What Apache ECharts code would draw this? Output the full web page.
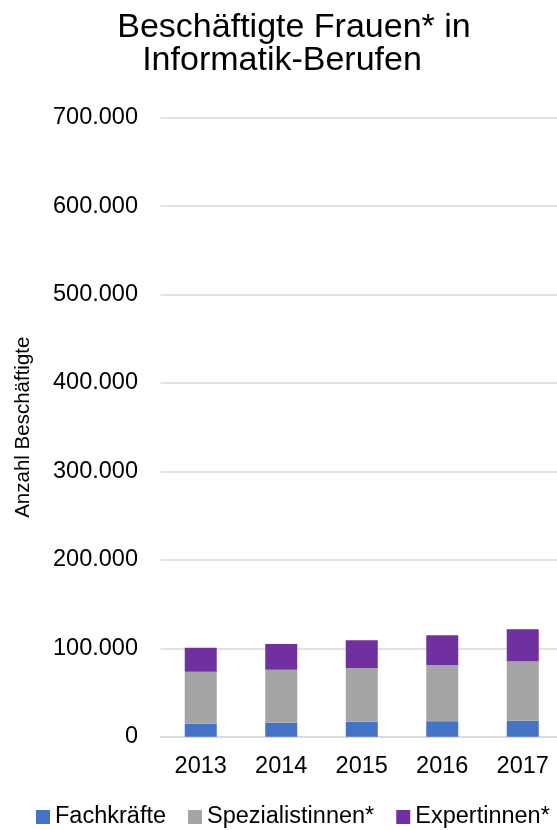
<!DOCTYPE html>
<html>
<head>
<meta charset="utf-8">
<script src="https://cdn.jsdelivr.net/npm/echarts@6/dist/echarts.min.js"></script>
<style>
html,body{margin:0;padding:0;background:#fff;}
#c{width:557px;height:830px;}
</style>
</head>
<body>
<div id="c"></div>
<script>
const titleLines = ['Beschäftigte Frauen* in', 'Informatik-Berufen'];
const years = ['2013', '2014', '2015', '2016', '2017'];
const seriesNames = ['Fachkräfte', 'Spezialistinnen*', 'Expertinnen*'];
const fachkraefte = [14700, 15800, 17000, 17400, 18100];
const spezialistinnen = [58800, 60000, 60700, 63700, 67200];
const expertinnen = [27100, 29000, 31300, 33600, 36200];
const colors = ['#4472C4', '#A5A5A5', '#7030A0'];
const font = '"Liberation Sans", Arial, sans-serif';

function fmt(v) {
  return String(v).replace(/\B(?=(\d{3})+(?!\d))/g, '.');
}

const chart = echarts.init(document.getElementById('c'));
const data = [fachkraefte, spezialistinnen, expertinnen];
chart.setOption({
  animation: false,
  textStyle: { fontFamily: font },
  graphic: [
    { type: 'text', x: 294, y: 27.5, style: { text: titleLines[0], fontSize: 34, fontFamily: font, fill: '#000', align: 'center', verticalAlign: 'middle' } },
    { type: 'text', x: 282, y: 61, style: { text: titleLines[1], fontSize: 34, fontFamily: font, fill: '#000', align: 'center', verticalAlign: 'middle' } }
  ],
  grid: { left: 160.5, right: -6, top: 117.7, bottom: 93.3, containLabel: false, outerBoundsMode: 'none' },
  legend: {
    left: 36, top: 805, padding: 0,
    itemWidth: 14, itemHeight: 14, itemGap: 22,
    icon: 'rect',
    textStyle: { fontSize: 23.5, color: '#000', fontFamily: font },
    data: seriesNames
  },
  xAxis: {
    type: 'category',
    data: years,
    axisLine: { lineStyle: { color: '#d9d9d9', width: 1.5 } },
    axisTick: { show: false },
    axisLabel: { fontSize: 23.5, color: '#000', margin: 18, fontFamily: font }
  },
  yAxis: {
    type: 'value',
    min: 0, max: 700000, interval: 100000,
    name: 'Anzahl Beschäftigte',
    nameLocation: 'middle',
    nameGap: 127,
    nameRotate: 90,
    nameTextStyle: { fontSize: 20.5, color: '#000', fontFamily: font },
    axisLine: { show: false },
    axisTick: { show: false },
    splitLine: { lineStyle: { color: '#d9d9d9', width: 1.5 } },
    axisLabel: { fontSize: 23.5, color: '#000', margin: 22.5, fontFamily: font, formatter: fmt }
  },
  series: seriesNames.map((n, i) => ({
    name: n,
    type: 'bar',
    stack: 'total',
    barWidth: 32,
    data: data[i],
    itemStyle: { color: colors[i] }
  }))
});
</script>
</body>
</html>
